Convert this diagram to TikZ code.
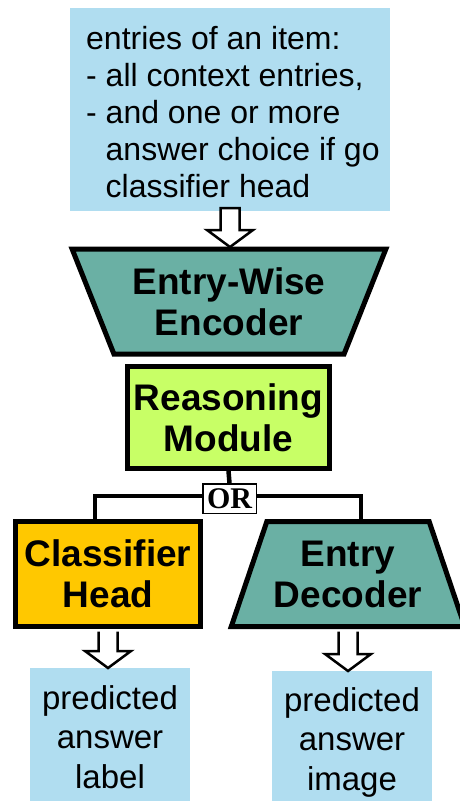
\documentclass[tikz,border=0pt]{standalone}
\usepackage{fontspec}
\setmainfont{Liberation Sans}
\newfontfamily\orfont{Liberation Serif}
\usetikzlibrary{shapes.geometric,calc}
\definecolor{inblue}{RGB}{176,221,240}
\definecolor{tealfill}{RGB}{106,176,164}
\definecolor{limefill}{RGB}{200,255,102}
\definecolor{goldfill}{RGB}{255,200,0}

% hollow block arrow: #1 start point, #2 point whose height gives the tip, #3 "-- cycle" to close the top
\newcommand\hollowarrow[3]{%
  \draw[hollow] let \p1=(#1), \p2=(#2) in
    (\x1-9.5pt,\y1) -- (\x1-9.5pt,\y2+17pt) -- (\x1-23pt,\y2+17pt) -- (\x1,\y2)
    -- (\x1+23pt,\y2+17pt) -- (\x1+9.5pt,\y2+17pt) -- (\x1+9.5pt,\y1) #3;}

\begin{document}
\begin{tikzpicture}[x=1pt,y=-1pt,
  iobox/.style={fill=inblue, draw=none, inner sep=0},
  iotext/.style={inner sep=0, font=\fontsize{32}{37}\selectfont},
  block/.style={draw=black, line width=5pt, inner sep=0, align=center,
    font=\bfseries\fontsize{37}{41}\selectfont},
  conn/.style={line width=4.5pt},
  hollow/.style={draw=black, fill=white, line width=2.5pt, line join=miter}
]
\useasboundingbox (0,0) rectangle (460,801);

% input description
\node[iobox, minimum width=320pt, minimum height=203pt] (input) at (230,109.5) {};
\node[iotext, anchor=north west, align=left] (inputtext) at (86,26.6)
  {entries of an item:\\- all context entries,\\- and one or more\\
   \hspace*{19.5pt}answer choice if go\\\hspace*{19.5pt}classifier head};

\hollowarrow{[yshift=3pt]input.south}{[yshift=2pt]0,249}{-- cycle}

% encoder and reasoning module
\node[block, shape=trapezium, trapezium stretches=true, trapezium angle=62.8,
  shape border rotate=180, minimum width=314pt, minimum height=105pt,
  fill=tealfill] (enc) at (229,301.5) {Entry-Wise\\Encoder};
\node[block, fill=limefill, minimum width=202pt, minimum height=102pt]
  (reason) at (228.5,417.5) {Reasoning\\Module};

% the two heads
\node[block, fill=goldfill, minimum width=185pt, minimum height=105pt]
  (clf) at (108,574) {Classifier\\Head};
\node[block, shape=trapezium, trapezium stretches=true, trapezium angle=64.1,
  minimum width=234pt, minimum height=105pt, fill=tealfill]
  (dec) at (348,574) {Entry\\Decoder};

% outputs
\node[iobox, minimum width=160pt, minimum height=140pt, anchor=north] (lab) at (110,668) {};
\node[iotext, font=\fontsize{33}{39.5}\selectfont, align=center, anchor=north]
  (labtext) at ([yshift=-17pt]lab.north) {predicted\\answer\\label};
\node[iobox, minimum width=160pt, minimum height=140pt, anchor=north] (img) at (352,671) {};
\node[iotext, font=\fontsize{33}{39.5}\selectfont, align=center, anchor=north]
  (imgtext) at ([yshift=-16pt]img.north) {predicted\\answer\\image};

% branching connectors
\node[draw, line width=1.5pt, fill=white, inner sep=0, minimum width=53.5pt,
  minimum height=29.5pt, font=\orfont\bfseries\fontsize{30}{30}\selectfont]
  (or) at (229.5,498.5) {OR};
\draw[conn] (reason.south) -- (or.north);
\draw[conn] ([yshift=2.5pt]or.west) -| ([xshift=-13pt]clf.north);
\draw[conn] ([yshift=2.5pt]or.east) -| ([xshift=13pt]dec.north);

\hollowarrow{[yshift=-2.5pt]clf.south}{lab.north}{}
\hollowarrow{[yshift=-2.5pt]dec.south}{img.north}{}
\end{tikzpicture}
\end{document}
